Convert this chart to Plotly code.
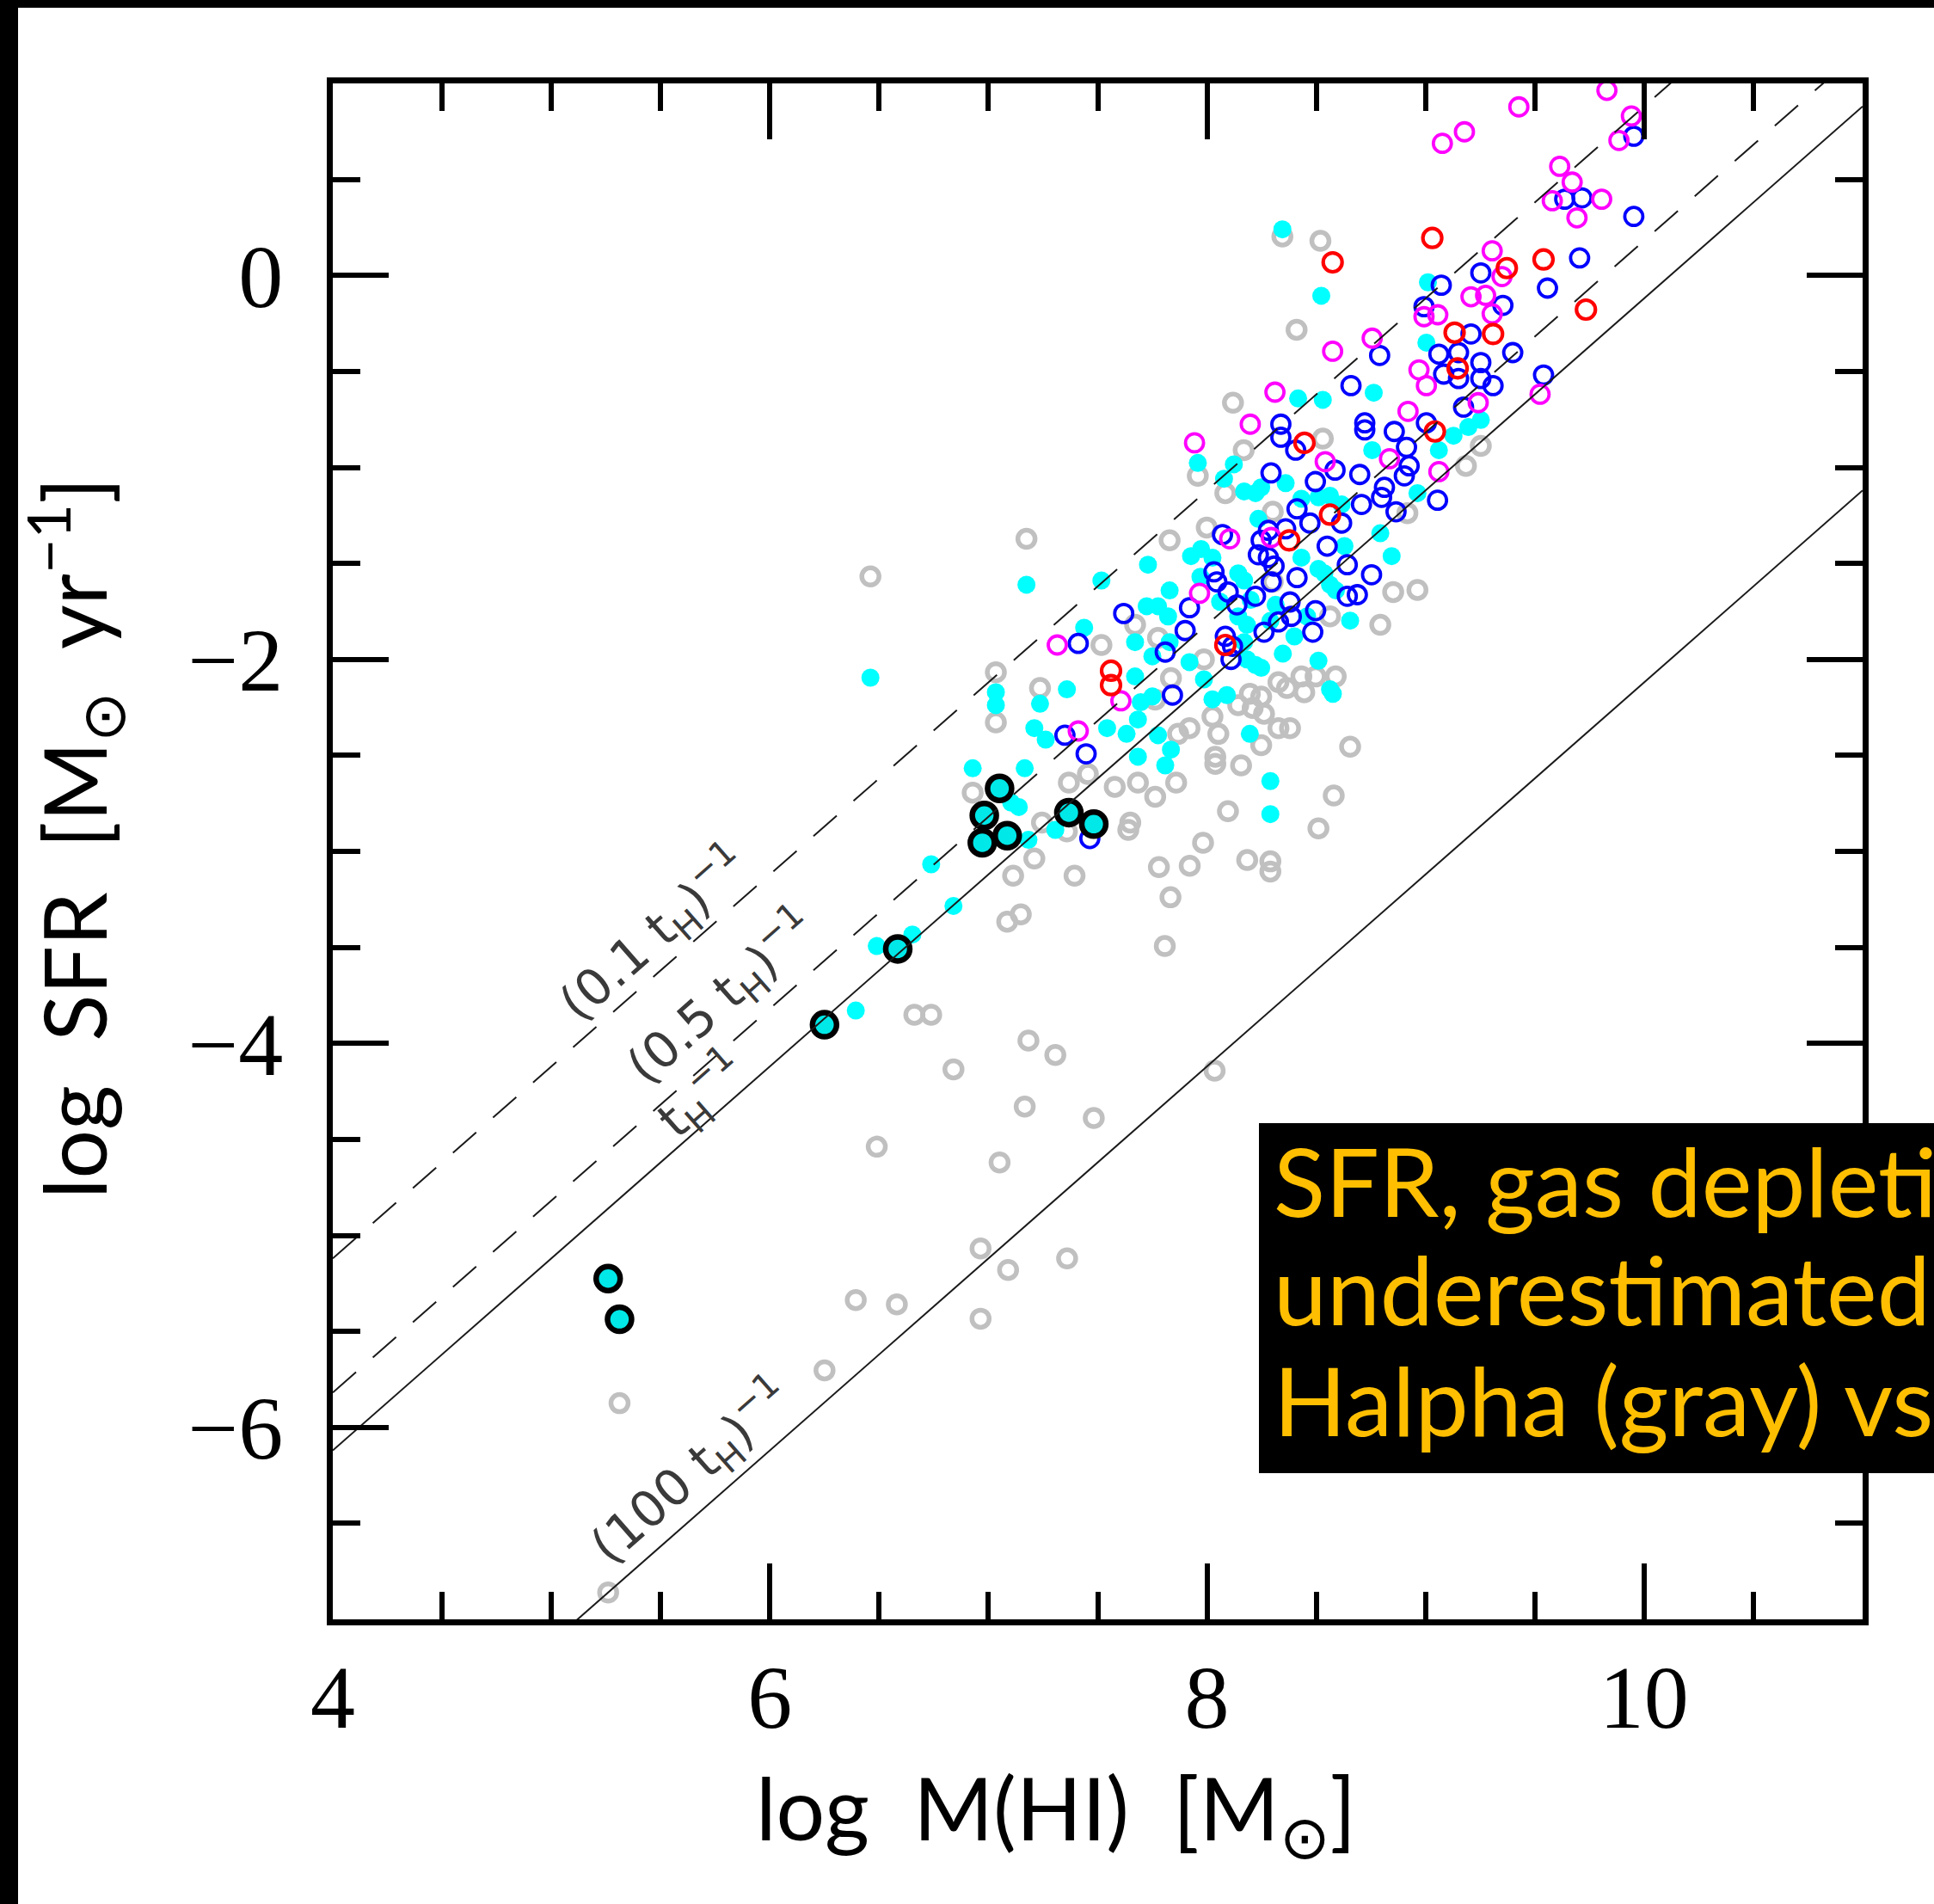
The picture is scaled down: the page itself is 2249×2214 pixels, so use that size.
import math
import plotly.graph_objects as go

# ---------------- data ----------------
gray_x = [8.345, 8.519, 8.41, 8.119, 8.168, 8.53, 7.958, 9.253, 9.185,
          7.174, 7.034, 7.236, 7.034, 7.517,
          8.084, 8.301, 7.999, 7.829, 8.852, 8.963, 8.793, 8.301, 8.917, 7.671, 7.776, 7.835, 7.986,
          8.366, 8.432, 8.497, 8.445, 8.589, 8.327,
          8.196, 8.248, 8.143, 8.209, 8.261, 8.025, 7.92, 7.868, 8.052, 8.327, 8.38, 8.248, 8.038, 8.038,
          8.156, 8.655, 8.563, 7.763,
          6.928, 7.368, 7.455, 7.578, 7.763, 8.58, 8.51, 8.096, 7.649, 7.64, 7.245, 7.359, 7.21, 7.113,
          7.394, 7.982, 7.78, 7.921, 8.184, 8.29, 8.29, 7.833, 7.086, 7.148, 7.807, 7.183, 7.306, 6.84,
          8.035, 7.166, 7.482, 7.051, 7.684, 7.859,
          6.661, 6.738, 6.489,
          5.312, 6.25, 6.393, 6.581, 6.964, 6.964, 5.26,
          6.46, 7.09, 7.36]
gray_y = [0.203, 0.18, -0.283, -0.663, -0.91, -0.85, -1.044, -0.888, -0.992,
          -1.372, -2.067, -2.149, -2.328, -1.925,
          -1.134, -1.231, -1.313, -1.38, -1.649, -1.638, -1.82, -1.596, -1.238, -1.82, -1.888, -2.097, -2.0,
          -2.149, -2.089, -2.089, -2.171, -2.089, -2.119,
          -2.179, -2.194, -2.238, -2.253, -2.283, -2.298, -2.358, -2.388, -2.388, -2.358, -2.358, -2.447,
          -2.507, -2.544, -2.552, -2.455, -1.776, -2.209,
          -2.694, -2.642, -2.597, -2.664, -2.716, -2.709, -2.88, -2.791, -2.85, -2.888, -2.85, -2.896,
          -3.037, -3.127, -3.127, -2.955, -3.082, -3.075, -3.045, -3.052, -3.105, -3.239, -3.366, -3.328,
          -3.493, -3.985, -4.06, -4.135, -4.142, -4.329, -4.389, -4.62, -2.642, -2.642,
          -3.851, -3.851, -4.538,
          -5.874, -5.703, -5.337, -5.359, -5.068, -5.434, -6.86,
          -1.568, -5.18, -5.12]

cyan_x = [8.345, 8.523, 9.011, 9.004, 8.763, 8.417, 8.53, 7.958, 8.123, 8.078, 8.36, 9.128, 9.196,
          9.253, 9.061, 8.756,
          7.174, 7.517, 7.438, 7.359, 7.236, 7.034, 7.034, 7.21, 7.262, 7.543, 6.928, 7.166,
          8.17, 8.222, 8.248, 8.432, 8.51, 8.563, 8.616, 8.235, 7.73, 7.927, 7.973, 8.025, 8.432, 8.51,
          8.537, 8.629, 8.793, 8.845, 8.963, 7.829, 7.724, 7.776, 7.822, 8.143, 8.17, 8.2, 8.143, 8.183,
          8.314, 8.458, 8.563, 8.59, 8.655, 7.671, 7.75, 7.829, 7.92, 7.986, 8.17, 8.183, 8.222, 8.248,
          8.347, 8.51, 8.563, 8.576, 8.025, 8.091, 7.671, 7.697, 7.75, 7.684, 7.632, 7.776, 7.835, 7.684,
          7.809, 8.196, 7.97, 8.06, 8.29, 8.40,
          7.139, 7.306, 7.183, 8.29, 6.84, 7.104, 8.29,
          6.738, 6.489, 6.652, 6.393, 6.46]
cyan_y = [0.24, -0.106, -0.036, -0.35, -0.611, -0.641, -0.648, -0.977, -0.984, -1.059, -1.082, -0.835,
          -0.79, -0.753, -0.91, -0.91,
          -1.611, -1.589, -1.835, -2.156, -2.231, -2.171, -2.238, -2.358, -2.418, -2.358, -2.567, -2.567,
          -1.125, -1.134, -1.104, -1.163, -1.156, -1.148, -1.193, -1.268, -1.507, -1.462, -1.425, -1.47,
          -1.47, -1.529, -1.552, -1.41, -1.343, -1.462, -1.134, -1.641, -1.723, -1.723, -1.776, -1.552,
          -1.589, -1.69, -1.776, -1.82, -1.716, -1.776, -1.611, -1.641, -1.798, -1.91, -1.984, -1.91,
          -2.014, -2.104, -1.91, -2.0, -2.029, -2.044, -1.97, -2.007, -2.156, -2.179, -2.208, -2.186,
          -2.089, -2.223, -2.193, -2.313, -2.388, -2.395, -2.47, -2.507, -2.552, -2.388, -1.57, -1.70,
          -1.80, -1.88,
          -2.769, -2.888, -2.94, -2.806, -3.284, -2.746, -2.634,
          -3.067, -3.493, -3.433, -3.829, -2.095]

blue_x = [9.953, 9.637, 9.716, 9.953, 9.705, 9.558, 9.253, 9.072, 9.354, 8.993, 8.79, 9.061, 9.151,
          9.208, 9.399, 9.253, 9.083, 9.151, 9.253, 9.309, 9.54, 8.659, 9.174, 8.338, 8.338, 8.406,
          8.293, 8.722, 8.722, 8.857, 8.913, 8.925, 8.903, 9.004, 8.586, 8.496, 8.699,
          8.812, 8.799, 9.055, 8.412, 8.707, 8.865, 8.471, 8.616, 8.071, 8.248, 8.281, 8.36, 8.235,
          8.281, 8.307, 8.55, 8.642, 8.753, 8.032, 8.045, 8.097, 8.294, 8.412, 8.222, 8.137, 7.92,
          7.619, 7.9, 8.38, 8.386, 8.327, 8.261, 8.497, 8.484, 8.642, 8.688, 8.084, 8.117, 7.809, 8.11,
          7.842,
          7.411, 7.447, 7.35, 7.464]
blue_y = [0.725, 0.397, 0.404, 0.307, 0.091, -0.066, 0.013, -0.051, -0.156, -0.163, -0.417, -0.41,
          -0.402, -0.305, -0.402, -0.454, -0.514, -0.537, -0.537, -0.574, -0.519, -0.574, -0.686,
          -0.775, -0.843, -0.91, -1.029, -0.768, -0.805, -0.813, -0.895, -0.992, -1.044, -0.768, -1.014,
          -1.074, -1.037,
          -1.104, -1.156, -1.171, -1.216, -1.193, -1.231, -1.29, -1.29, -1.35, -1.38, -1.328, -1.32,
          -1.455, -1.47, -1.514, -1.41, -1.507, -1.559, -1.544, -1.596, -1.649, -1.596, -1.574, -1.671,
          -1.716, -1.731, -1.761, -1.85, -1.701, -1.776, -1.805, -1.858, -1.746, -1.858, -1.671, -1.663,
          -1.88, -1.932, -1.962, -2.0, -2.186,
          -1.917, -2.492, -2.395, -2.933]

magenta_x = [9.83, 9.427, 9.178, 9.077, 9.942, 9.885, 9.614, 9.671, 9.58, 9.806, 9.693, 9.305, 9.35,
             9.208, 9.275, 9.305, 8.993, 9.056, 8.756, 8.575, 8.97, 9.004, 8.311, 8.198, 7.943, 8.541,
             8.92, 9.241, 9.524, 8.835, 9.061,
             7.315, 7.411, 8.104, 8.294, 7.966, 7.606]
magenta_y = [0.964, 0.878, 0.748, 0.688, 0.83, 0.703, 0.568, 0.486, 0.389, 0.397, 0.3, 0.128, -0.006,
             -0.111, -0.104, -0.2, -0.215, -0.205, -0.327, -0.395, -0.492, -0.574, -0.608, -0.775,
             -0.872, -0.97, -0.708, -0.663, -0.619, -0.955, -1.022,
             -1.925, -2.373, -1.372, -1.365, -1.656, -2.216]

red_x = [9.031, 8.575, 9.54, 9.372, 9.734, 9.133, 9.309, 9.147, 8.446, 9.043,
         7.561, 7.561, 8.563, 8.376, 8.084]
red_y = [0.195, 0.068, 0.083, 0.038, -0.178, -0.298, -0.305, -0.484, -0.872, -0.813,
         -2.059, -2.134, -1.246, -1.38, -1.925]

dwarf_x = [7.051, 6.981, 6.972, 7.086, 7.368, 7.482, 6.585, 6.25, 5.26, 5.312]
dwarf_y = [-2.672, -2.813, -2.955, -2.918, -2.798, -2.858, -3.508, -3.903, -5.225, -5.437]

# depletion-time reference lines: SFR = M(HI) / (f * t_H)
log_tH = 10.12
line_factors = [0.1, 0.5, 1.0, 100.0]
line_dashes = ["36px,26px", "36px,26px", "solid", "solid"]
line_xrange = [4.0, 11.0]

label_texts = ["(0.1 t<sub>H</sub>)<sup>−1</sup>", "(0.5 t<sub>H</sub>)<sup>−1</sup>",
               "t<sub>H</sub><sup>−1</sup>", "(100 t<sub>H</sub>)<sup>−1</sup>"]
label_x = [5.47, 5.78, 5.69, 5.64]
label_y = [-3.43, -3.76, -4.27, -6.23]

x_ticks = [4, 6, 8, 10]
y_ticks = [0, -2, -4, -6]
y_ticktext = ["0", "−2", "−4", "−6"]

note_lines = ["SFR, gas depleti", "underestimated", "Halpha (gray) vs"]

# ---------------- layout geometry ----------------
W, H = 2249, 2214
L, R, T, B = 387, 2166, 97, 1883


def px(x):
    return (x - L) / (R - L)


def py(y):
    return (B - y) / (B - T)


fig = go.Figure()

fig.add_trace(go.Scatter(x=gray_x, y=gray_y, mode="markers", name="gray",
                         marker=dict(symbol="circle-open", size=20, color="#c0c0c0",
                                     line=dict(width=5.5))))
fig.add_trace(go.Scatter(x=cyan_x, y=cyan_y, mode="markers", name="cyan",
                         marker=dict(symbol="circle", size=21, color="#00ffff",
                                     line=dict(width=0))))
fig.add_trace(go.Scatter(x=blue_x, y=blue_y, mode="markers", name="blue",
                         marker=dict(symbol="circle-open", size=21, color="#0000ff",
                                     line=dict(width=3.8))))
fig.add_trace(go.Scatter(x=magenta_x, y=magenta_y, mode="markers", name="magenta",
                         marker=dict(symbol="circle-open", size=21, color="#ff00ff",
                                     line=dict(width=3.8))))
fig.add_trace(go.Scatter(x=red_x, y=red_y, mode="markers", name="red",
                         marker=dict(symbol="circle-open", size=22, color="#ff0000",
                                     line=dict(width=4.2))))
fig.add_trace(go.Scatter(x=dwarf_x, y=dwarf_y, mode="markers", name="dwarfs",
                         marker=dict(symbol="circle", size=28, color="#00e8e8",
                                     line=dict(width=6.5, color="black"))))

for f, d in zip(line_factors, line_dashes):
    ys = [x - math.log10(f) - log_tH for x in line_xrange]
    fig.add_trace(go.Scatter(x=line_xrange, y=ys, mode="lines",
                             line=dict(color="#1a1a1a", width=2, dash=d),
                             hoverinfo="skip"))

annotations = []
for t, lx, ly in zip(label_texts, label_x, label_y):
    annotations.append(dict(x=lx, y=ly, xref="x", yref="y", text=t, showarrow=False,
                            textangle=-41.3, xanchor="center", yanchor="middle",
                            font=dict(family="DejaVu Sans", size=58, color="#3a3a3a")))

# axis titles
annotations.append(dict(x=px(1228), y=py(2108), xref="paper", yref="paper",
                        text="log  M(HI)  [M<sub>⊙</sub>]", showarrow=False,
                        xanchor="center", yanchor="middle",
                        font=dict(family="Lato", size=100, color="black")))
annotations.append(dict(x=px(86), y=py(975), xref="paper", yref="paper",
                        text="log  SFR  [M<sub>⊙</sub>  yr<sup>−1</sup>]", showarrow=False,
                        textangle=-90, xanchor="center", yanchor="middle",
                        font=dict(family="Lato", size=100, color="black")))

# note box text
note_centers = [1372, 1498, 1627]
for t, cy in zip(note_lines, note_centers):
    annotations.append(dict(x=px(1479), y=py(cy), xref="paper", yref="paper", text=t,
                            showarrow=False, xanchor="left", yanchor="middle",
                            font=dict(family="Lato", size=111, color="#ffbf00")))

shapes = [
    # note box background
    dict(type="rect", xref="paper", yref="paper", x0=px(1464), x1=px(2300),
         y0=py(1713), y1=py(1306), fillcolor="black", line=dict(width=0), layer="above"),
    # black border strips of the picture
    dict(type="rect", xref="paper", yref="paper", x0=px(-5), x1=px(21),
         y0=py(H + 5), y1=py(-5), fillcolor="black", line=dict(width=0), layer="above"),
    dict(type="rect", xref="paper", yref="paper", x0=px(-5), x1=px(W + 5),
         y0=py(9), y1=py(-5), fillcolor="black", line=dict(width=0), layer="above"),
]

axis_common = dict(
    showgrid=False, zeroline=False, showline=True, linewidth=7, linecolor="black",
    mirror="ticks", ticks="inside", ticklen=65, tickwidth=6, tickcolor="black",
    tick0=0, dtick=2,
    minor=dict(ticks="inside", dtick=0.5, ticklen=32, tickwidth=6, tickcolor="black", showgrid=False),
    tickfont=dict(family="Liberation Serif", size=104, color="black"),
    automargin=False,
)

fig.update_layout(
    width=W, height=H,
    margin=dict(l=L, r=W - R, t=T, b=H - B, pad=0),
    paper_bgcolor="white", plot_bgcolor="white",
    showlegend=False,
    xaxis=dict(range=[4, 11], tickvals=x_ticks, ticktext=[str(v) for v in x_ticks],
               ticklabelstandoff=-6, **axis_common),
    yaxis=dict(range=[-7, 1], tickvals=y_ticks, ticktext=y_ticktext,
               ticklabelstandoff=30, **axis_common),
    annotations=annotations,
    shapes=shapes,
)

fig.write_html("out.html")
